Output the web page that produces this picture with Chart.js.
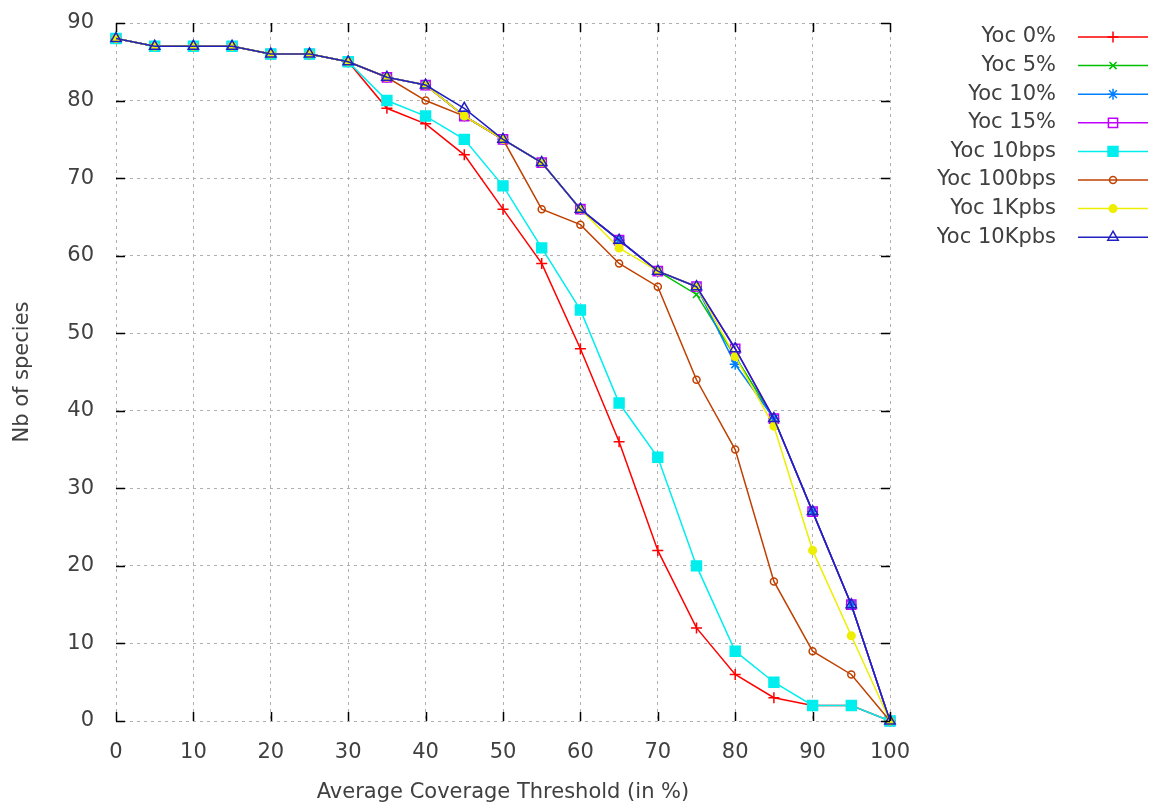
<!DOCTYPE html>
<html>
<head>
<meta charset="utf-8">
<script src="https://cdn.jsdelivr.net/npm/chart.js@4/dist/chart.umd.min.js"></script>
<style>
  html, body { margin: 0; padding: 0; background: #fff; }
  #wrap { width: 1156px; height: 808px; }
</style>
</head>
<body>
<div id="wrap"><canvas id="myChart" width="1156" height="808"></canvas></div>
<script>
// drempels op de x-as
var thresholds = [0, 5, 10, 15, 20, 25, 30, 35, 40, 45, 50, 55, 60, 65, 70, 75, 80, 85, 90, 95, 100];
var xTicks = [0, 10, 20, 30, 40, 50, 60, 70, 80, 90, 100];
var yTicks = [0, 10, 20, 30, 40, 50, 60, 70, 80, 90];

// aantal soorten per reeks
var yoc0     = [88, 87, 87, 87, 86, 86, 85, 79, 77, 73, 66, 59, 48, 36, 22, 12, 6, 3, 2, 2, 0];
var yoc5     = [88, 87, 87, 87, 86, 86, 85, 83, 82, 78, 75, 72, 66, 62, 58, 55, 47, 39, 27, 15, 0];
var yoc10    = [88, 87, 87, 87, 86, 86, 85, 83, 82, 78, 75, 72, 66, 62, 58, 56, 46, 39, 27, 15, 0];
var yoc15    = [88, 87, 87, 87, 86, 86, 85, 83, 82, 78, 75, 72, 66, 62, 58, 56, 48, 39, 27, 15, 0];
var yoc10bps = [88, 87, 87, 87, 86, 86, 85, 80, 78, 75, 69, 61, 53, 41, 34, 20, 9, 5, 2, 2, 0];
var yoc100bps= [88, 87, 87, 87, 86, 86, 85, 83, 80, 78, 75, 66, 64, 59, 56, 44, 35, 18, 9, 6, 0];
var yoc1k    = [88, 87, 87, 87, 86, 86, 85, 83, 82, 78, 75, 72, 66, 61, 58, 56, 47, 38, 22, 11, 0];
var yoc10k   = [88, 87, 87, 87, 86, 86, 85, 83, 82, 79, 75, 72, 66, 62, 58, 56, 48, 39, 27, 15, 0];

var seriesNames = ["Yoc 0%", "Yoc 5%", "Yoc 10%", "Yoc 15%", "Yoc 10bps", "Yoc 100bps", "Yoc 1Kpbs", "Yoc 10Kpbs"];
var seriesValues = [yoc0, yoc5, yoc10, yoc15, yoc10bps, yoc100bps, yoc1k, yoc10k];
var seriesColors = ["#ff0000", "#00c000", "#0080ff", "#c000ff", "#00eeee", "#c04000", "#eeee00", "#2020c0"];

// marker per reeks (gnuplot stijl)
var markers = [
  {style: "cross", r: 5.5, fill: false},
  {style: "crossRot", r: 5, fill: false},
  {style: "star", r: 5.5, fill: false},
  {style: "rect", r: 6.5, fill: false},
  {style: "rect", r: 7, fill: true},
  {style: "circle", r: 3.5, fill: false},
  {style: "circle", r: 3.8, fill: true},
  {style: "triangle", r: 6, fill: false}
];

var FONT = "'DejaVu Sans', sans-serif";
var TEXT = "#404040";

var datasets = seriesValues.map(function (vals, i) {
  return {
    label: seriesNames[i],
    data: thresholds.map(function (t, j) { return {x: t, y: vals[j]}; }),
    borderColor: seriesColors[i],
    backgroundColor: markers[i].fill ? seriesColors[i] : "rgba(0,0,0,0)",
    pointBorderColor: seriesColors[i],
    borderWidth: 1.5,
    pointBorderWidth: 1.5,
    pointStyle: markers[i].style,
    pointRadius: markers[i].r,
    pointHoverRadius: markers[i].r,
    tension: 0,
    clip: false,
    order: 7 - i
  };
});

// tekent de naar binnen wijzende ticks en de legenda
var gnuplotBits = {
  id: "gnuplotBits",
  afterDraw: function (chart) {
    var ctx = chart.ctx;
    var a = chart.chartArea;
    var xs = chart.scales.x, ys = chart.scales.y;
    ctx.save();
    ctx.strokeStyle = "#000";
    ctx.lineWidth = 1.5;
    ctx.beginPath();
    yTicks.forEach(function (v) {
      var y = Math.round(ys.getPixelForValue(v)) + 0.5;
      ctx.moveTo(a.left, y); ctx.lineTo(a.left + 9, y);
      ctx.moveTo(a.right, y); ctx.lineTo(a.right - 9, y);
    });
    xTicks.forEach(function (v) {
      var x = Math.round(xs.getPixelForValue(v)) + 0.5;
      ctx.moveTo(x, a.bottom); ctx.lineTo(x, a.bottom - 9);
      ctx.moveTo(x, a.top); ctx.lineTo(x, a.top + 9);
    });
    ctx.stroke();

    // legenda rechts
    ctx.font = "21px " + FONT;
    ctx.textAlign = "right";
    ctx.textBaseline = "middle";
    seriesNames.forEach(function (name, i) {
      var y = 37 + i * 28.6;
      ctx.fillStyle = TEXT;
      ctx.fillText(name, 1056, y);
      ctx.strokeStyle = seriesColors[i];
      ctx.lineWidth = 1.5;
      ctx.beginPath();
      ctx.moveTo(1078, y); ctx.lineTo(1148, y);
      ctx.stroke();
      ctx.fillStyle = markers[i].fill ? seriesColors[i] : "rgba(0,0,0,0)";
      Chart.helpers.drawPoint(ctx, {
        pointStyle: markers[i].style,
        radius: markers[i].r,
        rotation: 0,
        borderWidth: 1.5
      }, 1113, y);
    });
    ctx.restore();
  }
};

var ctx = document.getElementById("myChart").getContext("2d");
var myChart = new Chart(ctx, {
  type: "line",
  data: {datasets: datasets},
  plugins: [gnuplotBits],
  options: {
    responsive: false,
    animation: false,
    events: [],
    layout: {padding: {left: 0, right: 266, top: 23, bottom: 0}},
    plugins: {legend: {display: false}, tooltip: {enabled: false}},
    scales: {
      x: {
        type: "linear",
        min: 0, max: 100,
        afterFit: function (s) { s.height = 87; },
        afterBuildTicks: function (s) { s.ticks = xTicks.map(function (v) { return {value: v}; }); },
        grid: {color: "#b0b0b0", lineWidth: 1, drawTicks: false},
        border: {display: false, dash: [3, 4]},
        ticks: {color: TEXT, font: {family: FONT, size: 21}, padding: 19, maxRotation: 0},
        title: {display: true, text: "Average Coverage Threshold (in %)", color: TEXT,
                font: {family: FONT, size: 21}, padding: {top: 0, bottom: 3}}
      },
      y: {
        type: "linear",
        min: 0, max: 90,
        afterFit: function (s) { s.width = 116; s.paddingTop = 0; s.paddingBottom = 0; },
        afterBuildTicks: function (s) { s.ticks = yTicks.map(function (v) { return {value: v}; }); },
        grid: {color: "#b0b0b0", lineWidth: 1, drawTicks: false},
        border: {display: false, dash: [3, 4]},
        ticks: {color: TEXT, font: {family: FONT, size: 21}, padding: 22},
        title: {display: true, text: "Nb of species", color: TEXT,
                font: {family: FONT, size: 21}, padding: {top: 10, bottom: 0}}
      }
    }
  }
});
</script>
</body>
</html>
